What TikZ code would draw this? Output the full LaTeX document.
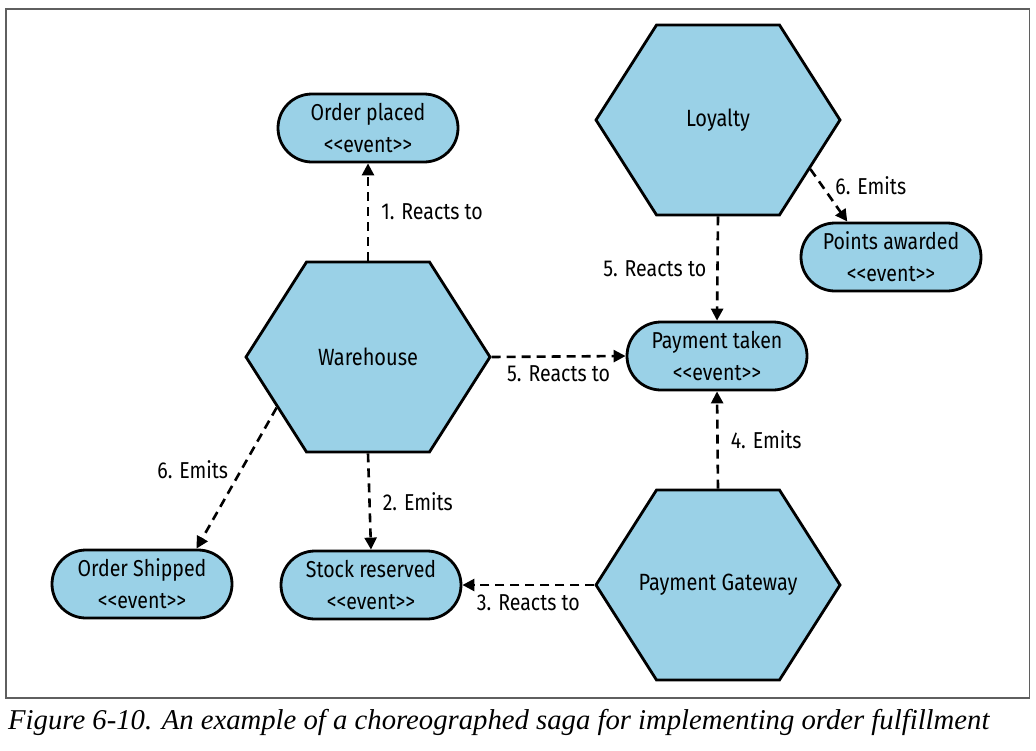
\documentclass[tikz,border=0pt]{standalone}
\usepackage{fontspec}
\setmainfont[FakeStretch=0.85]{Fira Sans}
\newfontfamily\captionfont{Liberation Serif}
\usetikzlibrary{arrows.meta}
\usetikzlibrary{shapes.symbols}
\usetikzlibrary{shapes.misc}

\definecolor{sagablue}{RGB}{154,209,231}
\definecolor{framegray}{RGB}{95,95,95}
\newcommand{\evt}{<\kern0pt<event>\kern0pt>}

\tikzset{
	service/.style={signal, signal to=east and west, signal pointer angle=115,
		draw=black, fill=sagablue, line width=2.8pt, minimum width=244pt,
		minimum height=190pt, inner sep=0pt, font=\fontsize{23.5}{28}\selectfont},
	event/.style={rounded rectangle, draw=black, fill=sagablue, line width=2.8pt,
		minimum width=180pt, minimum height=68pt, inner sep=0pt, align=center,
		font=\fontsize{23}{32}\selectfont},
	flow/.style={line width=2.6pt, dash pattern=on 9pt off 6pt,
		-{Triangle[length=12pt,width=12pt]}},
	lbl/.style={inner sep=2pt, font=\fontsize{23}{28}\selectfont}
}

\begin{document}
\begin{tikzpicture}[x=1pt, y=-1pt]
	\useasboundingbox (0,0) rectangle (1036,750);

	% draw frame
	\draw[framegray, line width=1.5pt] (6,9) rectangle (1029.5,698);

	% draw services
	\node[service] (warehouse) at (368,357) {Warehouse};
	\node[service] (loyalty) at (718,120) {Loyalty};
	\node[service] (gateway) at (718,585) {\makebox[0pt]{Payment Gateway}};

	% draw events
	\node[event] (placed) at (368,128) {Order placed\\\evt};
	\node[event] (awarded) at (891,257) {Points awarded\\\evt};
	\node[event] (taken) at (717,356) {Payment taken\\\evt};
	\node[event] (shipped) at (142,584) {Order Shipped\\\evt};
	\node[event] (reserved) at (371,585) {Stock reserved\\\evt};

	% draw the saga steps
	\draw[flow] (warehouse.north) -- node[lbl, right=10pt] {1. Reacts to} (placed.south);
	\draw[flow] (warehouse.south) -- node[lbl, right=10pt] {2. Emits} (reserved.north);
	\draw[flow] (gateway.west) -- node[lbl, below=6pt] {3. Reacts to} (reserved.east);
	\draw[flow] (gateway.north) -- node[lbl, right=10pt] {4. Emits} (taken.south);
	\draw[flow] (warehouse.east) -- node[lbl, below=6pt] {5. Reacts to} (taken.west);
	\draw[flow] (loyalty.south) -- node[lbl, left=8pt] {5. Reacts to} (taken.north);
	\draw[flow] (loyalty.-28) -- node[lbl, pos=0.32, right=10pt] {6. Emits} (awarded.141);
	\draw[flow] (warehouse.209) -- node[lbl, pos=0.44, left=10pt] {6. Emits} (shipped.33);

	% draw caption
	\node[anchor=west, inner sep=0pt, font=\captionfont\itshape\fontsize{28.7}{34}\selectfont]
		(caption) at (8,722) {Figure 6-10. An example of a choreographed saga for implementing order fulfillment};
\end{tikzpicture}
\end{document}
